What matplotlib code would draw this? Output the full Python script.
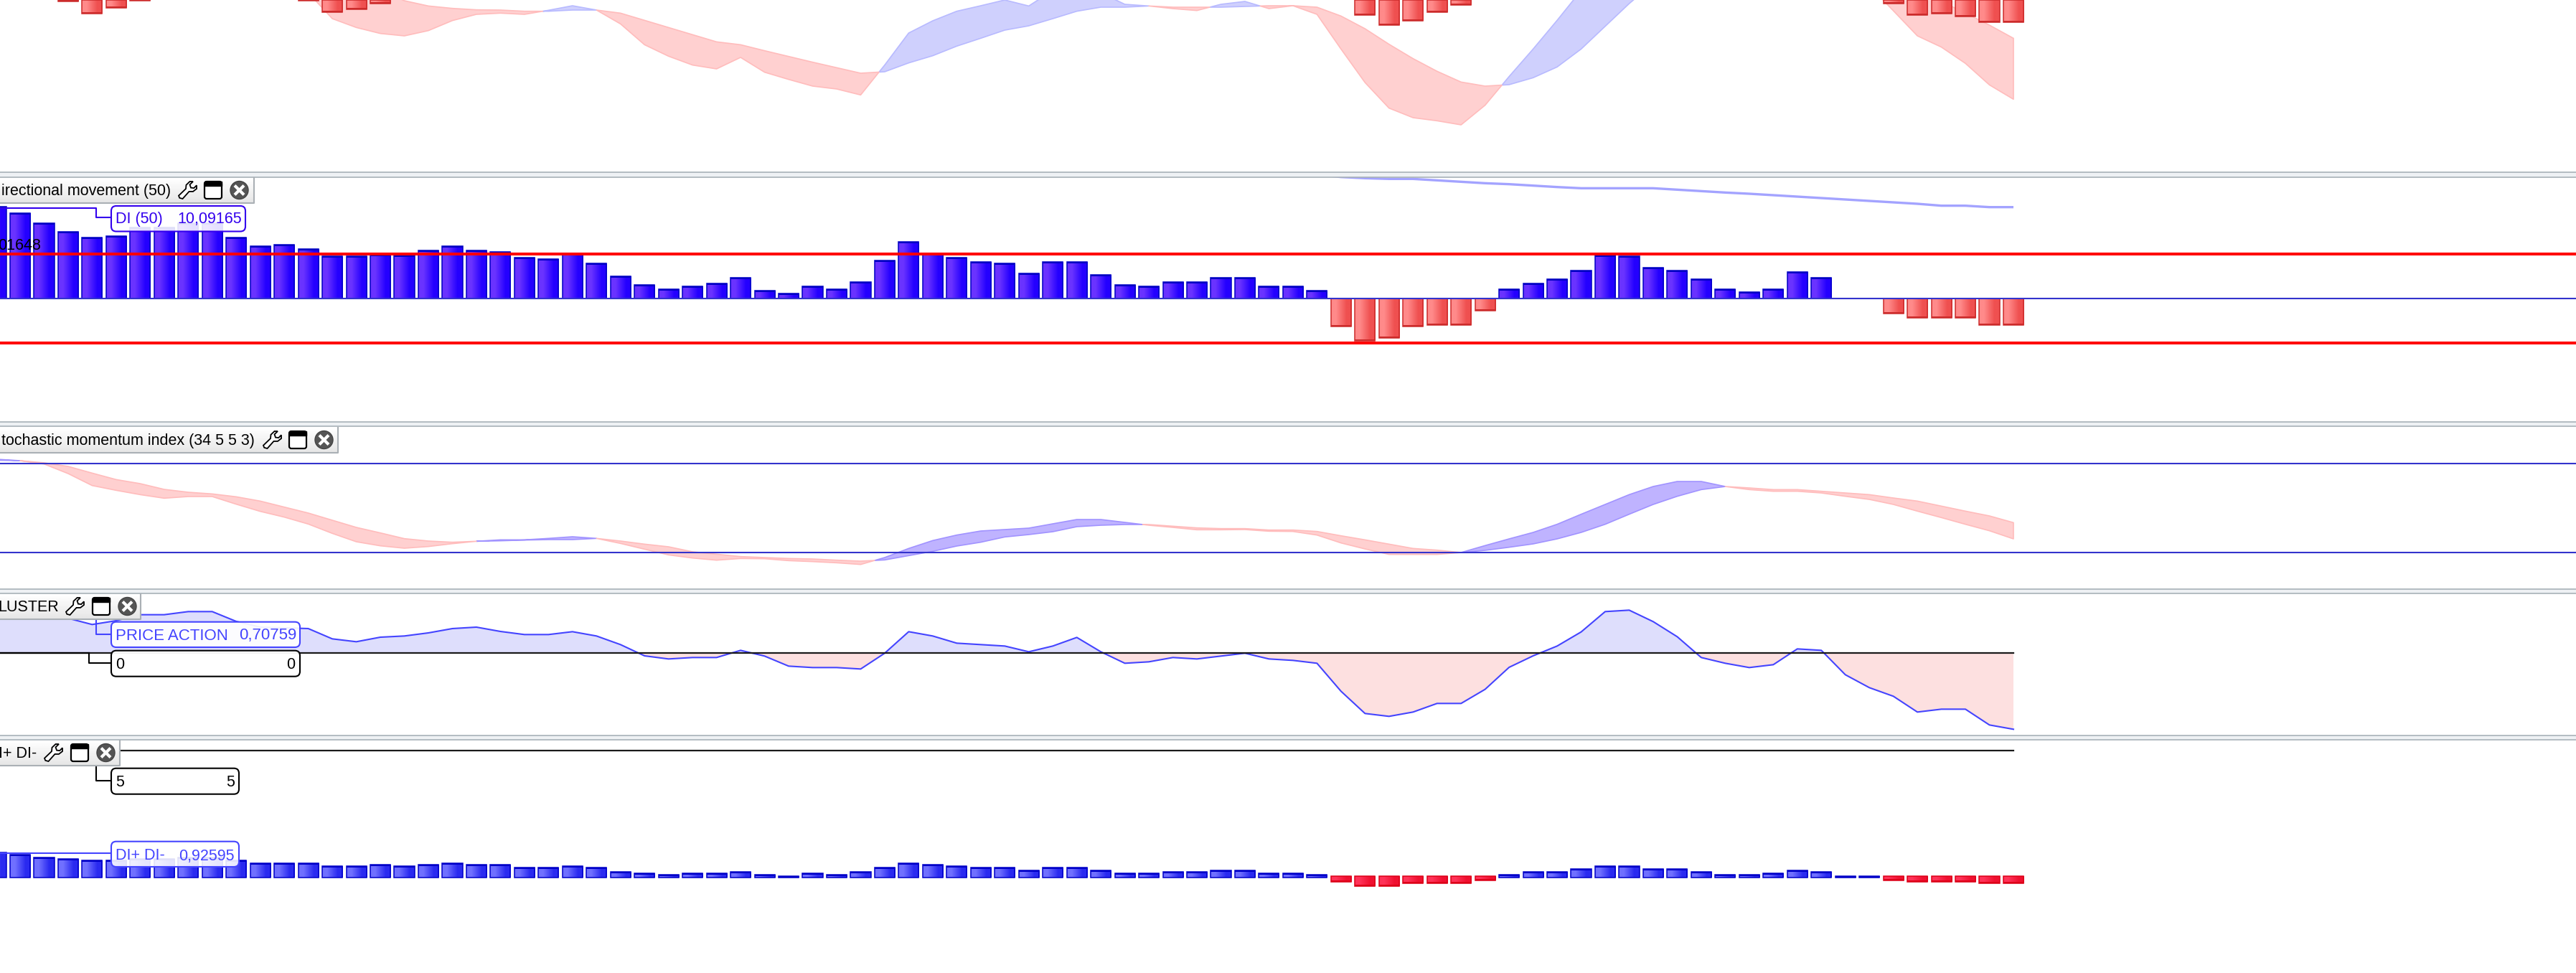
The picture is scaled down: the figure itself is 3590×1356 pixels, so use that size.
import matplotlib
matplotlib.use("Agg")
import matplotlib.pyplot as plt
import numpy as np
from matplotlib.patches import Circle, FancyBboxPatch, Polygon, Rectangle

W, H = 3590, 1356
plt.rcParams["font.family"] = ["Liberation Sans", "DejaVu Sans"]

bars = np.arange(-1, 84)

# top panel: histogram depth and ribbon, in rows below the top edge
macd_hist = [0, 0, 0, 7, 56, 32, 2, 0, 0, 0, 0, 0, 0, 2, 50, 38, 14,
             0, 0, 0, 0, 0, 0, 0, 0, 0, 0, 0, 0, 0, 0, 0, 0, 0, 0, 0, 0,
             0, 0, 0, 0, 0, 0, 0, 0, 0, 0, 0, 0, 0, 0, 0, 0, 0, 0, 0, 0,
             62, 104, 86, 50, 20, 0, 0, 0, 0, 0, 0, 0, 0, 0, 0, 0, 0, 0, 0, 0, 0, 0,
             14, 62, 56, 68, 92, 92]
macd_fast = [-100, -100, -100, -100, -100, -100, -100, -100, -100, -100, -100, -100, -100,
             -30, 78, 115, 140, 150, 128, 86, 60, 55, 60, 43, 24, 42, 100, 187, 235, 272, 288,
             240, 302, 332, 360, 372, 397, 272, 138, 87, 47, 24, 0, 25, -40, -40, -30, 18, 25,
             36, 44, 18, 6, 36, 24, 60, 205, 345, 452, 492, 505, 522, 440, 320, 205, 85, -40,
             -150, -250, -320, -380, -400, -400, -380, -340, -290, -220, -150, -59,
             45, 150, 197, 265, 355, 415]
macd_slow = [-200, -200, -200, -200, -200, -200, -200, -200, -200, -200, -200, -200, -200,
             -180, -120, -80, -40, 3, 25, 35, 41, 42, 47, 47, 42, 42, 55, 85, 115, 145, 175,
             187, 212, 236, 260, 283, 306, 300, 263, 233, 193, 160, 126, 108, 78, 47, 30, 30, 25,
             30, 30, 30, 27, 24, 24, 30, 67, 120, 185, 245, 298, 343, 360, 354, 325, 280, 205,
             110, 15, -70, -130, -180, -220, -250, -260, -250, -220, -200, -180,
             -120, -50, 5, 55, 105, 160]

# directional movement panel
di_hist = [382, 355, 313, 277, 253, 259, 295, 295, 313, 313, 253, 217, 223, 205, 175, 175,
           181, 179, 199, 217, 199, 193, 169, 163, 187, 145, 91, 55, 37, 49, 61,
           85, 31, 19, 49, 37, 67, 157, 235, 187, 169, 151, 145, 103, 151, 151, 97, 55, 49,
           67, 67, 85, 85, 49, 49, 31, -117, -177, -165, -117, -111, -111, -51,
           37, 61, 79, 115, 179, 175, 127, 115, 79, 37, 25, 37, 109, 85, 0, 0,
           -63, -81, -81, -81, -111, -111]
di_level = 186
di_line_bars = np.arange(54, 84)
di_line = [517, 507, 502, 499, 499, 493, 487, 481, 477, 471, 465, 460, 460, 460, 460,
           454, 448, 442, 437, 431, 425, 419, 413, 407, 401, 395, 387, 387, 381, 381]

# stochastic momentum index panel
smi_levels = [0, 372]
smi_fast = [390, 384, 370, 330, 280, 260, 242, 227, 234, 234, 202, 172, 148, 119, 80, 45, 28,
            18, 25, 37, 47, 53, 53, 59, 66, 59, 38, 14, -10, -23, -32,
            -25, -26, -34, -38, -43, -50, -21, 17, 50, 73, 90, 96, 102, 120, 138, 138, 126, 114,
            105, 95, 95, 96, 89, 88, 73, 40, 15, -8, -8, -8, 0,
            29, 57, 84, 118, 160, 201, 242, 276, 297, 297, 276,
            263, 256, 256, 249, 235, 222, 201, 173, 146, 118, 91, 57]
smi_slow = [386, 384, 375, 360, 332, 305, 288, 264, 252, 245, 233, 215, 190, 165, 135, 105, 82,
            58, 48, 43, 47, 49, 52, 54, 54, 59, 48, 35, 24, 3, -7,
            -17, -21, -25, -27, -32, -36, -31, -13, 5, 27, 43, 65, 75, 87, 108, 114, 117, 117,
            110, 103, 100, 100, 94, 94, 88, 70, 53, 35, 17, 10, 0,
            9, 22, 36, 57, 84, 118, 160, 201, 235, 263, 276,
            270, 263, 263, 256, 249, 242, 228, 215, 194, 173, 153, 125]

# price action cluster panel
cluster = [148, 151, 151, 146, 120, 136, 161, 161, 174, 174, 133, 109, 106, 103, 60, 48, 67,
           72, 85, 103, 109, 91, 78, 78, 90, 72, 36, -11, -24, -18, -18,
           12, -12, -54, -60, -60, -66, 0, 90, 72, 42, 36, 30, 6, 30, 66, 6, -42, -36, -18, -24,
           -12, 0, -24, -30, -42, -159, -252, -264, -246, -210, -210, -151, -59, -11, 30, 89,
           174, 180, 132, 69, -18, -42, -60, -48, 18, 12, -90, -144, -180, -246, -234, -234,
           -300, -318]

# DI+ DI- panel
dipm_level = 530
dipm_hist = [103, 94, 82, 76, 70, 70, 76, 76, 82, 82, 70, 58, 58, 58, 46, 46, 52, 46, 52, 58,
             52, 52, 40, 40, 46, 40, 22, 16, 10, 16, 16,
             22, 10, 4, 16, 10, 22, 40, 58, 52, 46, 40, 40, 28, 40, 40, 28, 16, 16, 22, 22, 28,
             28, 16, 16, 10, -19, -37, -37, -25, -25, -25, -13,
             11, 23, 23, 35, 47, 47, 35, 35, 23, 11, 11, 17, 29, 23, 5, 5,
             -13, -19, -19, -19, -25, -25]

# panel title boxes
titles = ["irectional movement (50)", "tochastic momentum index (34 5 5 3)", "LUSTER", "I+ DI-"]

BAR0 = 28.0
BAR_STEP = 33.47
BLUE_LINE = "#3333cc"
RED_LINE = "#ff0000"
FONT = 15.5


def panel(top, bot, zero):
    # one value unit is one third of a pixel
    ax = fig.add_axes([0, 1 - bot / H, 1, (bot - top) / H])
    ax.set_xlim(-BAR0 / BAR_STEP, (W - BAR0) / BAR_STEP)
    ax.set_ylim((zero - bot) * 3, (zero - top) * 3)
    ax.axis("off")
    return ax


def grad_bars(ax, x, h, start, left, right, edge, cap=6, width=0.84):
    ylim = ax.get_ylim()
    xlim = ax.get_xlim()
    grad = np.array([[matplotlib.colors.to_rgb(left), matplotlib.colors.to_rgb(right)]])
    h = np.array(h, dtype=float)
    keep = h != 0
    x = np.array(x)[keep]
    h = h[keep]
    for xi, hi in zip(x, h):
        ax.imshow(grad, extent=(xi - width / 2, xi + width / 2, start, hi), aspect="auto",
                  interpolation="bilinear", zorder=2)
    ax.bar(x, h - start, bottom=start, width=width, facecolor="none",
           edgecolor=edge, linewidth=1.1, zorder=3)
    ax.bar(x, -np.sign(h) * cap, bottom=h, width=width, color=edge,
           linewidth=0, zorder=3)
    ax.set_xlim(xlim)
    ax.set_ylim(ylim)


def ribbon(ax, x, fast, slow, up_fill, up_edge, dn_fill, dn_edge):
    fast = np.array(fast, dtype=float)
    slow = np.array(slow, dtype=float)
    ax.fill_between(x, fast, slow, where=fast >= slow, interpolate=True, facecolor=up_fill,
                    edgecolor=up_edge, linewidth=1.2, zorder=1)
    ax.fill_between(x, fast, slow, where=fast <= slow, interpolate=True, facecolor=dn_fill,
                    edgecolor=dn_edge, linewidth=1.2, zorder=1)


def label(x0, x1, y0, y1, color, alpha=1.0):
    ov.add_patch(FancyBboxPatch((x0, y0), x1 - x0, y1 - y0, boxstyle="round,pad=0,rounding_size=7",
                                facecolor=(1, 1, 1, alpha), edgecolor=color, linewidth=1.5, zorder=5))


def title_box(x1, y0, y1, text, text_x, wrench_x, window_x, close_x):
    grad = np.linspace(1.0, 0.9, 32).reshape(-1, 1)
    ov.imshow(grad, extent=(0, x1, y1, y0), aspect="auto", cmap="gray", vmin=0, vmax=1, zorder=6)
    ov.plot([0, x1, x1], [y1, y1, y0], color="#aab0b5", lw=1.5, zorder=6)
    ov.text(text_x, (y0 + y1) / 2 + 1, text, ha="right", va="center", fontsize=FONT, color="black", zorder=7)
    iy0, iy1 = y0 + 5, y0 + 29
    # wrench
    shape = np.array([(0.05, 0.95), (0.0, 0.82), (0.4, 0.42), (0.42, 0.2), (0.62, 0.0), (0.8, 0.0),
                      (0.62, 0.18), (0.68, 0.36), (0.85, 0.38), (1.0, 0.22), (1.0, 0.42), (0.8, 0.58),
                      (0.58, 0.58), (0.22, 1.0)])
    pts = np.column_stack([wrench_x + shape[:, 0] * 25, iy0 + shape[:, 1] * 24])
    ov.add_patch(Polygon(pts, closed=True, facecolor="white", edgecolor="black", linewidth=1.3, zorder=7))
    # window
    ov.add_patch(FancyBboxPatch((window_x, iy0), 24, 24, boxstyle="round,pad=0,rounding_size=3",
                                facecolor="white", edgecolor="black", linewidth=1.6, zorder=7))
    ov.add_patch(Rectangle((window_x, iy0), 24, 6, facecolor="black", edgecolor="black", zorder=7))
    # close
    cx, cy = close_x + 12.5, (iy0 + iy1) / 2
    ov.add_patch(Circle((cx, cy), 12.5, facecolor="#555555", edgecolor="#444444", zorder=7))
    ov.plot([cx - 5, cx + 5], [cy - 5, cy + 5], color="white", lw=3, zorder=8)
    ov.plot([cx - 5, cx + 5], [cy + 5, cy - 5], color="white", lw=3, zorder=8)


fig = plt.figure(figsize=(W / 100, H / 100), dpi=100, facecolor="white")

# top panel
ax_a = panel(0, 240, 0)
ribbon(ax_a, bars, -np.array(macd_fast), -np.array(macd_slow), "#cfd0fd", "#b8baff", "#ffd0d0", "#ffbcbc")
grad_bars(ax_a, bars, -np.array(macd_hist), 0, "#ff8a8a", "#ef5050", "#cc2b2b")

# directional movement
ax_b = panel(247, 588, 415.67)
blue = [v if v > 0 else 0 for v in di_hist]
red = [v if v < 0 else 0 for v in di_hist]
grad_bars(ax_b, bars, blue, 0, "#6a33ff", "#2400ff", "#0000c4")
grad_bars(ax_b, bars, red, 0, "#ff8a8a", "#ef5050", "#cc2b2b")
ax_b.plot(di_line_bars, di_line, color="#a3a3ff", lw=2.4, solid_capstyle="butt", zorder=2)
ax_b.axhline(0, color=BLUE_LINE, lw=1.5, zorder=4)
ax_b.axhline(di_level, color=RED_LINE, lw=2.9, zorder=5)
ax_b.axhline(-di_level, color=RED_LINE, lw=2.9, zorder=5)

# stochastic momentum
ax_c = panel(594, 820, 770)
ribbon(ax_c, bars, smi_fast, smi_slow, "#bfb3ff", "#a193ff", "#ffd0d0", "#ffbcbc")
for lev in smi_levels:
    ax_c.axhline(lev, color=BLUE_LINE, lw=1.5, zorder=4)

# cluster
ax_d = panel(826, 1024, 910.33)
cl = np.array(cluster, dtype=float)
ax_d.fill_between(bars, cl, 0, where=cl >= 0, interpolate=True, facecolor="#dedefc", linewidth=0, zorder=1)
ax_d.fill_between(bars, cl, 0, where=cl <= 0, interpolate=True, facecolor="#fde0e0", linewidth=0, zorder=1)
ax_d.plot(bars, cl, color="#4444ff", lw=1.5, zorder=2)
ax_d.plot([bars[0], bars[-1]], [0, 0], color="#1a1a1a", lw=1.6, zorder=3)

# DI+ DI-
ax_e = panel(1030, 1356, 1222.67)
blue = [v if v > 0 else 0 for v in dipm_hist]
red = [v if v < 0 else 0 for v in dipm_hist]
grad_bars(ax_e, bars, blue, 0, "#7070ff", "#2a2af0", "#0000c8")
grad_bars(ax_e, bars, red, 5, "#ff3358", "#f01030", "#dd0018")
ax_e.plot([bars[0], bars[-1]], [dipm_level, dipm_level], color="#1a1a1a", lw=1.6, zorder=3)

# overlay in picture pixels for separators, title boxes and value labels
ov = fig.add_axes([0, 0, 1, 1], zorder=10)
ov.set_xlim(0, W)
ov.set_ylim(H, 0)
ov.axis("off")

for y0, y1 in [(240, 246.7), (588.3, 594.3), (820.5, 826.5), (1024.7, 1030.5)]:
    ov.add_patch(Rectangle((0, y0), W, y1 - y0, facecolor="#eef1f4", edgecolor="none", zorder=1))
    ov.plot([0, W], [y0, y0], color="#a8b2b8", lw=1.2, zorder=2)
    ov.plot([0, W], [y1, y1], color="#a8b2b8", lw=1.2, zorder=2)

title_box(354, 248, 283, titles[0], 238, 249, 285, 321)
title_box(471, 596, 631, titles[1], 355, 367, 403, 439)
title_box(196, 828, 863, titles[2], 82, 92, 129, 165)
title_box(167, 1032, 1067, titles[3], 51, 62, 99, 135)

ov.text(57, 343, "01648", ha="right", va="center", fontsize=FONT, color="black", zorder=4)

PURPLE = "#3300ee"
SOFT = "#4444ff"
ov.plot([0, 134, 134, 155], [290, 290, 303, 303], color=PURPLE, lw=1.5, zorder=4)
label(155, 342, 287, 322.5, PURPLE, 0.88)
ov.text(161, 306, "DI (50)", va="center", fontsize=FONT, color=PURPLE, zorder=6)
ov.text(337, 306, "10,09165", va="center", ha="right", fontsize=FONT, color=PURPLE, zorder=6)

ov.plot([0, 124], [910, 910], color="black", lw=1.6, zorder=4)
ov.plot([124, 124, 155], [910, 923.7, 923.7], color="black", lw=1.5, zorder=4)
label(155, 418, 906.7, 942.7, "black", 0.95)
ov.text(161, 927, "0", va="center", fontsize=FONT, color="black", zorder=6)
ov.text(411, 927, "0", va="center", ha="right", fontsize=FONT, color="black", zorder=6)

ov.plot([134, 134, 155], [863, 884, 884], color=SOFT, lw=1.5, zorder=4)
label(155, 418, 866.7, 902, SOFT, 0.92)
ov.text(161, 886, "PRICE ACTION", va="center", fontsize=16, color=SOFT, zorder=6)
ov.text(413, 886, "0,70759", va="center", ha="right", fontsize=16, color=SOFT, zorder=6)

ov.plot([134, 134, 155], [1067, 1088, 1088], color="black", lw=1.5, zorder=4)
label(155, 333, 1070.7, 1106.7, "black", 1.0)
ov.text(161, 1091, "5", va="center", fontsize=FONT, color="black", zorder=6)
ov.text(327, 1091, "5", va="center", ha="right", fontsize=FONT, color="black", zorder=6)

ov.plot([0, 155], [1189, 1189], color=SOFT, lw=1.5, zorder=4)
label(155, 333, 1172.7, 1208, SOFT, 0.88)
ov.text(161, 1193, "DI+ DI-", va="center", fontsize=FONT, color=SOFT, zorder=6)
ov.text(327, 1193, "0,92595", va="center", ha="right", fontsize=FONT, color=SOFT, zorder=6)

ov.set_xlim(0, W)
ov.set_ylim(H, 0)

fig.savefig("out.png", dpi=100)
